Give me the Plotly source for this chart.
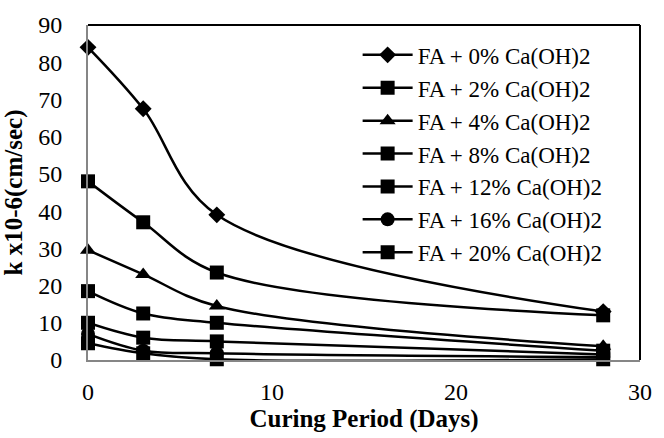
import plotly.graph_objects as go

days = [0, 3, 7, 28]
series_names = [
    "FA + 0% Ca(OH)2",
    "FA + 2% Ca(OH)2",
    "FA + 4% Ca(OH)2",
    "FA + 8% Ca(OH)2",
    "FA + 12% Ca(OH)2",
    "FA + 16% Ca(OH)2",
    "FA + 20% Ca(OH)2",
]
k_0 = [84, 67.5, 39, 13]
k_2 = [48, 37, 23.5, 12]
k_4 = [29.5, 23, 14.5, 3.7]
k_8 = [18.5, 12.5, 10, 2.5]
k_12 = [10, 6, 5, 1.5]
k_16 = [7, 2.5, 1.8, 0.8]
k_20 = [4.5, 1.8, 0.2, 0.2]
series_values = [k_0, k_2, k_4, k_8, k_12, k_16, k_20]
symbols = ["diamond", "square", "triangle-up", "square", "square", "circle", "square"]
sizes = [13, 14, 14, 14, 14, 14, 14]

fig = go.Figure()
for name, vals, sym, sz in zip(series_names, series_values, symbols, sizes):
    fig.add_trace(go.Scatter(
        x=days, y=vals, name=name, mode="lines+markers",
        line=dict(color="black", width=2.5, shape="spline", smoothing=1.0),
        marker=dict(symbol=sym, size=sz, color="black"),
        cliponaxis=False,
    ))

font_family = "Liberation Serif"
fig.update_layout(
    width=664, height=438,
    margin=dict(l=88, r=13, t=24, b=76),
    paper_bgcolor="white", plot_bgcolor="white",
    font=dict(family=font_family, size=24, color="black"),
    showlegend=True,
    legend=dict(
        x=(363 - 88) / 563, y=0.975, xanchor="left", yanchor="top",
        bgcolor="rgba(0,0,0,0)", borderwidth=0,
        font=dict(family=font_family, size=23, color="black"),
        itemwidth=50, tracegroupgap=0,
    ),
    xaxis=dict(
        range=[0, 30], dtick=10, tick0=0, showgrid=False, zeroline=False,
        showline=True, linecolor="#868686", linewidth=2, ticks="",
        ticklabelstandoff=9,
        tickfont=dict(family=font_family, size=24, color="black"),
        title=dict(text="<b>Curing Period (Days)</b>", standoff=4,
                   font=dict(family=font_family, size=25, color="black")),
    ),
    yaxis=dict(
        range=[0, 90], dtick=10, tick0=0, showgrid=False, zeroline=False,
        showline=True, linecolor="#868686", linewidth=2, ticks="",
        ticklabelstandoff=19,
        tickfont=dict(family=font_family, size=24, color="black"),
        title=dict(text="<b>k x10-6(cm/sec)</b>", standoff=9,
                   font=dict(family=font_family, size=25, color="black")),
    ),
    shapes=[
        dict(type="line", xref="paper", yref="paper", x0=0, x1=1, y0=1, y1=1,
             line=dict(color="black", width=2)),
        dict(type="line", xref="paper", yref="paper", x0=1, x1=1, y0=0, y1=1,
             line=dict(color="black", width=2)),
    ],
)

fig.write_html("out.html")
